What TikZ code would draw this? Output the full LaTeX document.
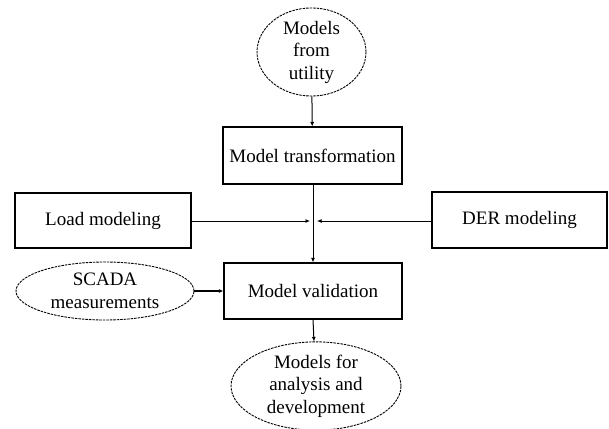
\documentclass[tikz,border=0pt]{standalone}
\usepackage{fontspec}
\setmainfont{Liberation Serif}
\usetikzlibrary{arrows.meta,shapes.geometric}

\tikzset{
  every node/.style={font=\fontsize{19}{22.5}\selectfont, align=center, inner sep=0pt},
  box/.style={draw, line width=1.1pt, rectangle},
  oval/.style={draw, ellipse, line width=0.9pt, dash pattern=on 2.5pt off 1pt},
  flow/.style={line width=1pt, -{Latex[length=4.5pt,width=4pt]}},
  thickflow/.style={line width=2.2pt, -{Latex[length=4.5pt,width=4pt]}},
}

\begin{document}
\begin{tikzpicture}[x=1pt,y=-1pt]
  \useasboundingbox (0,0) rectangle (609,428);

  % sources and results
  \node[oval, minimum width=109pt, minimum height=84pt] (util) at (311.5,52) {Models\\from\\utility};
  \node[oval, minimum width=178pt, minimum height=58pt] (scada) at (105,291) {SCADA\\measurements};
  \node[oval, minimum width=170pt, minimum height=81pt] (out) at (316,386) {Models for\\analysis and\\development};

  % processing steps
  \node[box, minimum width=179pt, minimum height=57pt] (trans) at (312.5,155.5) {Model transformation};
  \node[box, minimum width=176pt, minimum height=55pt] (load) at (103,220.5) {Load modeling};
  \node[box, minimum width=175pt, minimum height=56pt] (der) at (519.5,220) {DER modeling};
  \node[box, minimum width=178pt, minimum height=56pt] (valid) at (313,291) {Model validation};

  % merge point of the modelling inputs
  \coordinate (join) at (313,221);

  % connectors
  \draw[flow] (util) -- (trans);
  \draw[flow] (trans.south -| join) -- (valid.north -| join);
  \draw[flow, shorten >=3pt] (load.east |- join) -- (join);
  \draw[flow, shorten >=4pt] (der.west |- join) -- (join);
  \draw[thickflow] (scada) -- (valid);
  \draw[flow] (valid.south -| join) -- (out);
\end{tikzpicture}
\end{document}
